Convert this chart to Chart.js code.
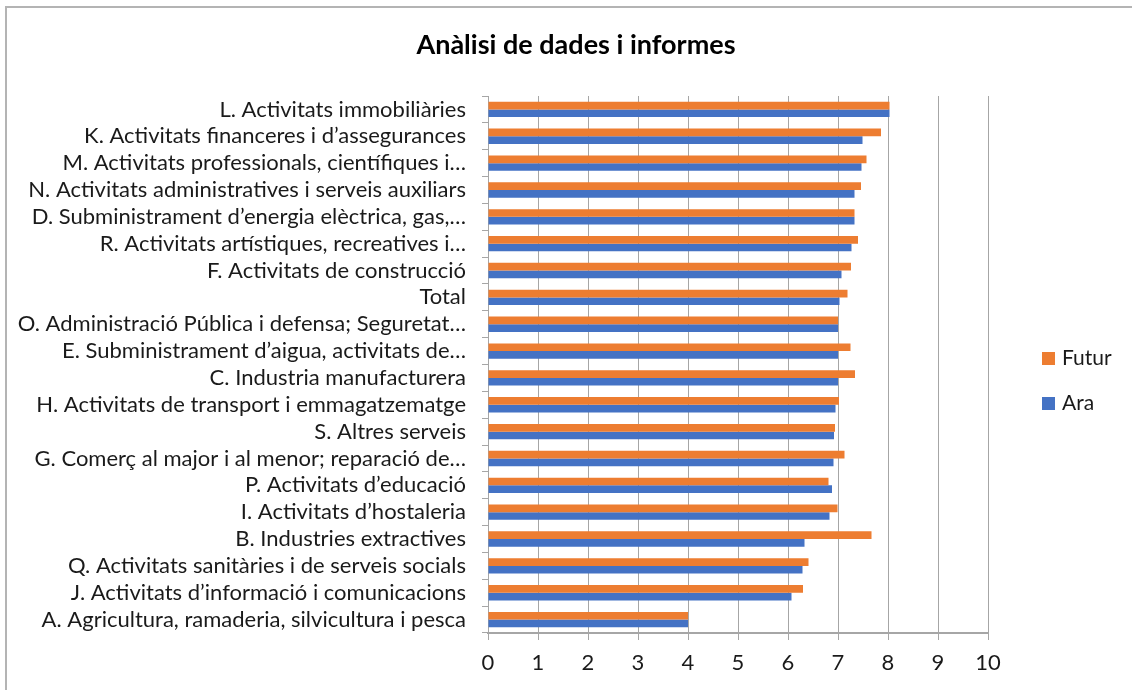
<!DOCTYPE html>
<html>
<head>
<meta charset="utf-8">
<script src="https://cdn.jsdelivr.net/npm/chart.js@4/dist/chart.umd.min.js"></script>
<style>
  body { margin: 0; background: #fff; }
  #wrap { position: relative; width: 1132px; height: 690px; overflow: hidden; }
  #frame { position: absolute; left: 5px; top: 6px; width: 1200px; height: 800px;
           border-left: 2px solid #b4b4b4; border-top: 2px solid #b4b4b4; }
  #chart_main { position: absolute; left: 0; top: 0; }
  #title { position: absolute; left: 10px; width: 1132px; top: 27px; line-height: 34px; text-align: center;
           font-family: Lato, sans-serif; font-weight: bold; font-size: 27px; color: #000; }
  .legend { position: absolute; left: 1042px; line-height: 24px; font-family: Lato, sans-serif; font-size: 21px; color: #1a1a1a; }
  .legend span.box { display: inline-block; width: 13px; height: 13px; margin-right: 7px; vertical-align: 0px; }
</style>
</head>
<body>
<div id="wrap">
  <div id="frame"></div>
  <canvas id="chart_main" width="1132" height="690"></canvas>
  <div id="title">Anàlisi de dades i informes</div>
</div>
<script>
const categories = [
    'L. Activitats immobiliàries',
    'K. Activitats financeres i d’assegurances',
    'M. Activitats professionals, científiques i…',
    'N. Activitats administratives i serveis auxiliars',
    'D. Subministrament d’energia elèctrica, gas,…',
    'R. Activitats artístiques, recreatives i…',
    'F. Activitats de construcció',
    'Total',
    'O. Administració Pública i defensa; Seguretat…',
    'E. Subministrament d’aigua, activitats de…',
    'C. Industria manufacturera',
    'H. Activitats de transport i emmagatzematge',
    'S. Altres serveis',
    'G. Comerç al major i al menor; reparació de…',
    'P. Activitats d’educació',
    'I. Activitats d’hostaleria',
    'B. Industries extractives',
    'Q. Activitats sanitàries i de serveis socials',
    'J. Activitats d’informació i comunicacions',
    'A. Agricultura, ramaderia, silvicultura i pesca'
];
const futur = [8.03, 7.86, 7.57, 7.46, 7.33, 7.40, 7.26, 7.19, 7.00, 7.25,
               7.34, 7.02, 6.94, 7.13, 6.81, 6.99, 7.67, 6.41, 6.30, 4.00];
const ara = [8.03, 7.49, 7.47, 7.33, 7.33, 7.27, 7.07, 7.03, 7.00, 7.00,
             7.00, 6.95, 6.92, 6.91, 6.88, 6.83, 6.33, 6.29, 6.07, 4.00];
const xTicks = [0, 1, 2, 3, 4, 5, 6, 7, 8, 9, 10];

const colors = { orange: '#ED7D31', blue: '#4472C4', grid: '#a6a6a6', text: '#1a1a1a' };
const seriesList = [
    { label: 'Futur', data: futur, color: colors.orange },
    { label: 'Ara', data: ara, color: colors.blue }
];

const ctx = document.getElementById('chart_main').getContext('2d');
const chart = new Chart(ctx, {
    type: 'bar',
    data: {
        labels: categories,
        datasets: seriesList.map(s => ({
            label: s.label,
            data: s.data,
            backgroundColor: s.color,
            borderWidth: 0,
            categoryPercentage: 0.57,
            barPercentage: 1.0
        }))
    },
    options: {
        indexAxis: 'y',
        responsive: false,
        animation: false,
        // room for the title above and the legend on the right
        layout: { padding: { left: 0, right: 144, top: 96, bottom: 0 } },
        plugins: {
            legend: { display: false },
            tooltip: { enabled: false },
            title: { display: false }
        },
        scales: {
            x: {
                min: 0,
                max: 10,
                afterBuildTicks: scale => { scale.ticks = xTicks.map(v => ({ value: v })); },
                afterFit: scale => { scale.height = 57; },
                grid: { color: colors.grid, lineWidth: 1, tickLength: 7, drawTicks: true },
                border: { display: true, color: colors.grid, width: 2 },
                ticks: { color: colors.text, padding: 10, font: { family: 'Lato', size: 22 } }
            },
            y: {
                afterFit: scale => { scale.width = 488; },
                grid: { drawOnChartArea: false, drawTicks: true, tickLength: 6, color: colors.grid, offset: true },
                border: { display: true, color: colors.grid, width: 1 },
                ticks: { color: colors.text, padding: 16, autoSkip: false, font: { family: 'Lato', size: 22 } }
            }
        }
    }
});

// legend on the right, built from the dataset list
const area = chart.chartArea;
const midY = (area.top + area.bottom) / 2;
seriesList.forEach((s, i) => {
    const div = document.createElement('div');
    div.className = 'legend';
    div.style.top = (midY - 20 + i * 45) + 'px';
    div.innerHTML = '<span class="box" style="background:' + s.color + '"></span>' + s.label;
    document.getElementById('wrap').appendChild(div);
});
</script>
</body>
</html>
